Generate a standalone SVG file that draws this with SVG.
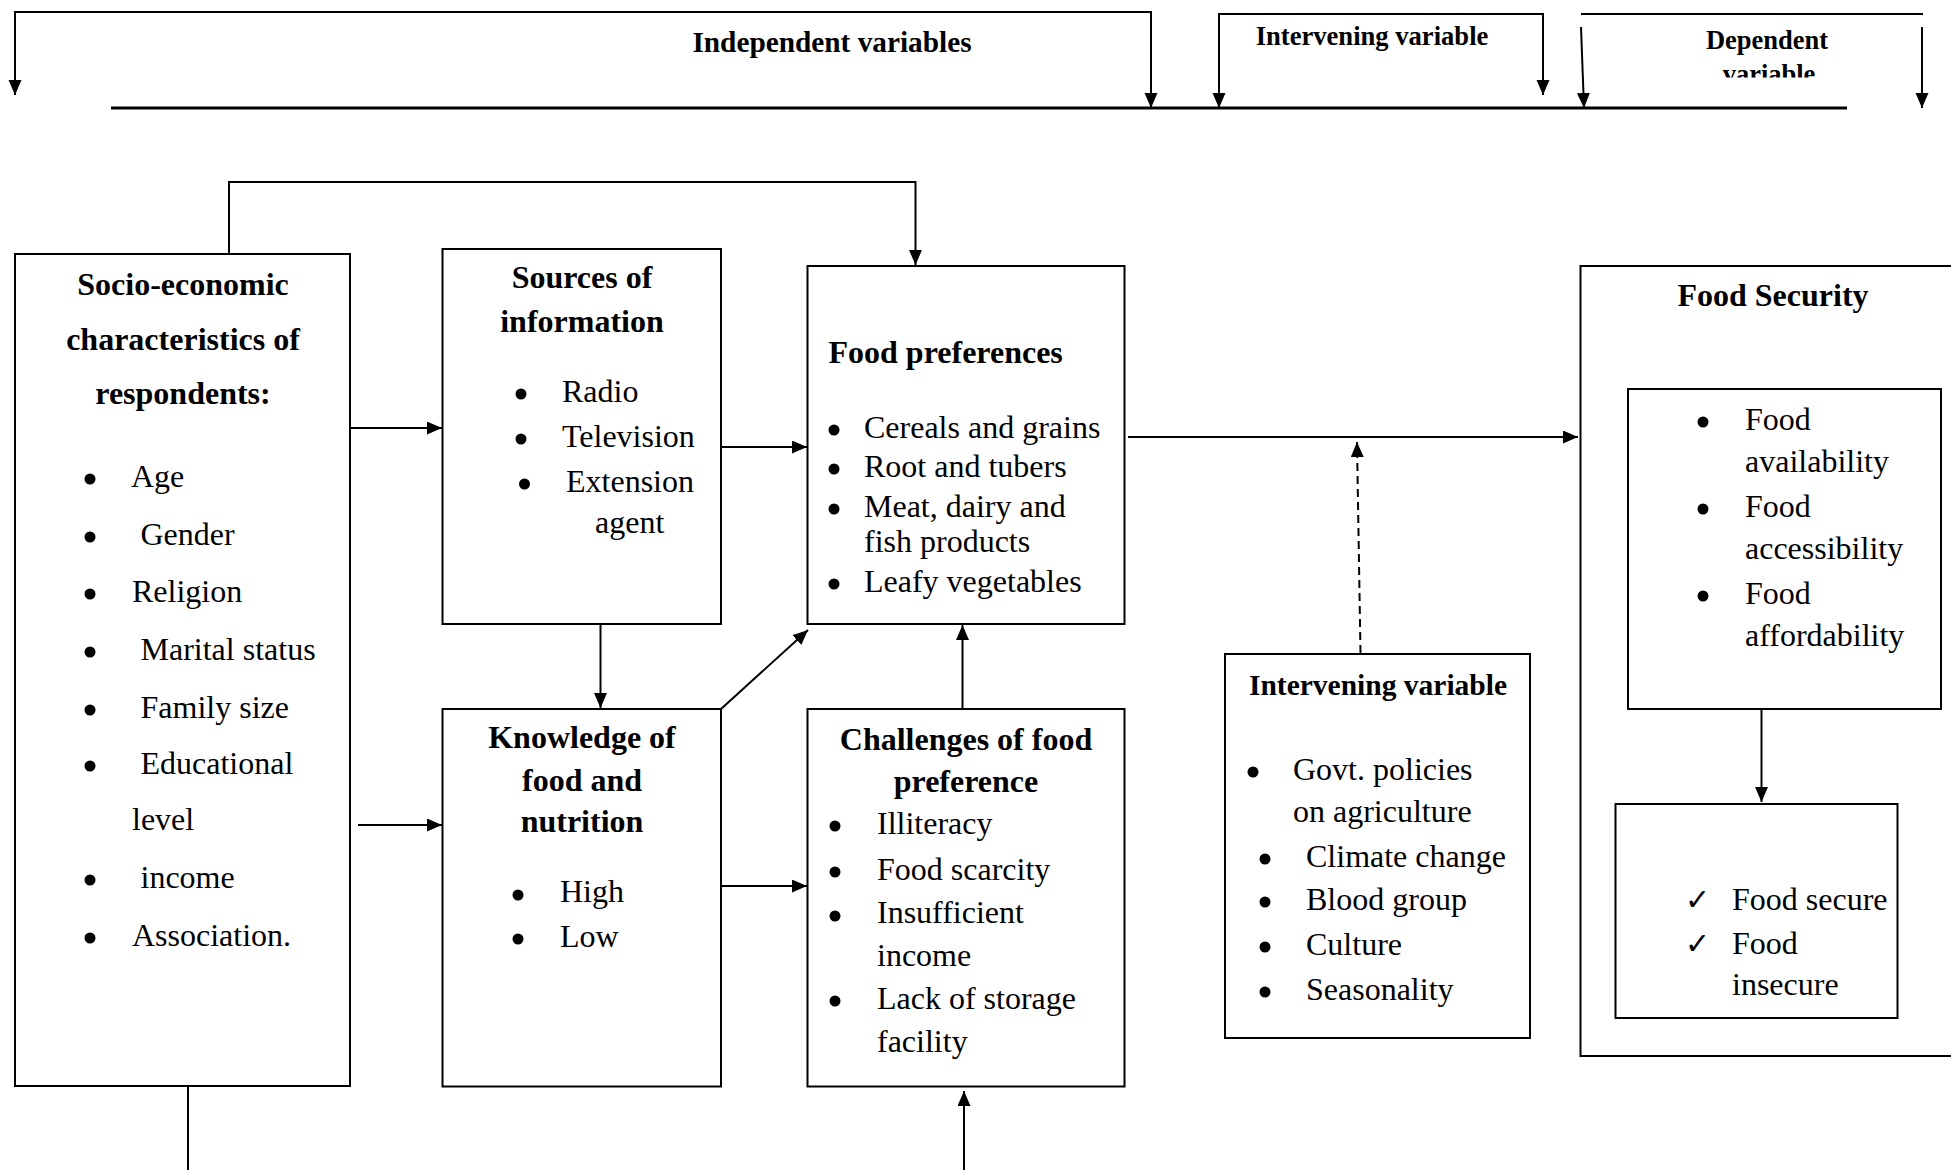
<svg xmlns="http://www.w3.org/2000/svg" width="1951" height="1170" viewBox="0 0 1951 1170">
<defs>
<style>
.box{fill:none;stroke:#000;stroke-width:2}
.ln{fill:none;stroke:#000;stroke-width:2}
.t{font-family:"Liberation Serif","Times New Roman",serif;font-size:32px;fill:#000}
.b{font-weight:bold}
.h{font-family:"Liberation Serif","Times New Roman",serif;font-weight:bold;fill:#000}
.c{text-anchor:middle}
.ck{font-family:"DejaVu Sans",sans-serif;font-size:30px;fill:#000}
</style>
<marker id="ah" markerUnits="userSpaceOnUse" markerWidth="16" markerHeight="14" refX="15" refY="6.5" orient="auto"><path d="M0,0 L15,6.5 L0,13 z" fill="#000"/></marker>
<clipPath id="depclip"><rect x="1580" y="0" width="360" height="77.5"/></clipPath>
</defs>
<rect width="1951" height="1170" fill="#fff"/>

<g id="header">
<text class="h c" x="832" y="52" font-size="29.3">Independent variables</text>
<text class="h c" x="1372" y="45" font-size="26.6">Intervening variable</text>
<text class="h c" x="1767" y="49" font-size="26.5">Dependent</text>
<text class="h c" x="1769" y="83" font-size="26.5" clip-path="url(#depclip)">variable</text>
</g>

<g id="connectors">
<polyline class="ln" points="15,95 15,12 1151,12 1151,108" marker-end="url(#ah)"/>
<path class="ln" d="M15,12 L15,95" marker-end="url(#ah)"/>
<polyline class="ln" points="1543,95 1543,14 1219,14 1219,108" marker-end="url(#ah)"/>
<path class="ln" d="M1219,14 L1543,14 L1543,95" marker-end="url(#ah)"/>
<line class="ln" x1="1581" y1="14" x2="1923" y2="14"/>
<line class="ln" x1="1581" y1="27" x2="1584" y2="108" marker-end="url(#ah)"/>
<line class="ln" x1="1922" y1="27" x2="1922" y2="108" marker-end="url(#ah)"/>
<line x1="111" y1="108" x2="1847" y2="108" stroke="#000" stroke-width="3"/>
<polyline class="ln" points="229,253 229,182 915.5,182 915.5,265" marker-end="url(#ah)"/>
<line class="ln" x1="350" y1="428" x2="442" y2="428" marker-end="url(#ah)"/>
<line class="ln" x1="721" y1="447" x2="807" y2="447" marker-end="url(#ah)"/>
<line class="ln" x1="600.5" y1="624" x2="600.5" y2="708" marker-end="url(#ah)"/>
<line class="ln" x1="358" y1="825" x2="442" y2="825" marker-end="url(#ah)"/>
<line class="ln" x1="721" y1="709" x2="808" y2="630" marker-end="url(#ah)"/>
<line class="ln" x1="721" y1="886" x2="807" y2="886" marker-end="url(#ah)"/>
<line class="ln" x1="962.5" y1="709" x2="962.5" y2="625" marker-end="url(#ah)"/>
<line class="ln" x1="964" y1="1170" x2="964" y2="1091" marker-end="url(#ah)"/>
<line class="ln" x1="188" y1="1086" x2="188" y2="1170"/>
<line class="ln" x1="1128" y1="437" x2="1578" y2="437" marker-end="url(#ah)"/>
<line class="ln" x1="1360.5" y1="653" x2="1357" y2="442" stroke-dasharray="8 5" marker-end="url(#ah)"/>
<line class="ln" x1="1761.5" y1="709" x2="1761.5" y2="802" marker-end="url(#ah)"/>
</g>

<g id="socio">
<rect class="box" x="15" y="254" width="335" height="832"/>
<text class="t b c" x="183" y="295">Socio-economic</text>
<text class="t b c" x="183" y="350">characteristics of</text>
<text class="t b c" x="183" y="404">respondents:</text>
<g fill="#000"><circle cx="90" cy="479" r="5.5"/><circle cx="90" cy="537" r="5.5"/><circle cx="90" cy="594" r="5.5"/><circle cx="90" cy="652" r="5.5"/><circle cx="90" cy="710" r="5.5"/><circle cx="90" cy="766" r="5.5"/><circle cx="90" cy="880" r="5.5"/><circle cx="90" cy="938" r="5.5"/></g>
<text class="t" x="131" y="487">Age</text>
<text class="t" x="140.5" y="545">Gender</text>
<text class="t" x="132" y="602">Religion</text>
<text class="t" x="140.5" y="660">Marital status</text>
<text class="t" x="140.5" y="718">Family size</text>
<text class="t" x="140.5" y="774">Educational</text>
<text class="t" x="132" y="830">level</text>
<text class="t" x="140.5" y="888">income</text>
<text class="t" x="132" y="946">Association.</text>
</g>

<g id="sources">
<rect class="box" x="442.5" y="249" width="278.5" height="375"/>
<text class="t b c" x="582" y="288">Sources of</text>
<text class="t b c" x="582" y="332">information</text>
<g fill="#000"><circle cx="521" cy="394" r="5.5"/><circle cx="521" cy="439" r="5.5"/><circle cx="524.5" cy="484" r="5.5"/></g>
<text class="t" x="562" y="402">Radio</text>
<text class="t" x="562" y="447">Television</text>
<text class="t" x="566" y="492">Extension</text>
<text class="t" x="595" y="533">agent</text>
</g>

<g id="knowledge">
<rect class="box" x="442.5" y="709" width="278.5" height="377.5"/>
<text class="t b c" x="582" y="748">Knowledge of</text>
<text class="t b c" x="582" y="791">food and</text>
<text class="t b c" x="582" y="832">nutrition</text>
<g fill="#000"><circle cx="518" cy="895" r="5.5"/><circle cx="518" cy="939" r="5.5"/></g>
<text class="t" x="560" y="902">High</text>
<text class="t" x="560" y="947">Low</text>
</g>

<g id="foodpref">
<rect class="box" x="807.5" y="266" width="317" height="358"/>
<text class="t b" x="828.5" y="363">Food preferences</text>
<g fill="#000"><circle cx="834" cy="430" r="5.5"/><circle cx="834" cy="469" r="5.5"/><circle cx="834" cy="509" r="5.5"/><circle cx="834" cy="584" r="5.5"/></g>
<text class="t" x="864" y="438">Cereals and grains</text>
<text class="t" x="864" y="477">Root and tubers</text>
<text class="t" x="864" y="517">Meat, dairy and</text>
<text class="t" x="864" y="552">fish products</text>
<text class="t" x="864" y="592">Leafy vegetables</text>
</g>

<g id="challenges">
<rect class="box" x="807.5" y="709" width="317" height="377.5"/>
<text class="t b c" x="966" y="750">Challenges of food</text>
<text class="t b c" x="966" y="792">preference</text>
<g fill="#000"><circle cx="835" cy="826" r="5.5"/><circle cx="835" cy="872" r="5.5"/><circle cx="835" cy="916" r="5.5"/><circle cx="835" cy="1001" r="5.5"/></g>
<text class="t" x="877" y="834">Illiteracy</text>
<text class="t" x="877" y="880">Food scarcity</text>
<text class="t" x="877" y="923">Insufficient</text>
<text class="t" x="877" y="966">income</text>
<text class="t" x="877" y="1009">Lack of storage</text>
<text class="t" x="877" y="1052">facility</text>
</g>

<g id="intervening">
<rect class="box" x="1225" y="654" width="305" height="384"/>
<text class="h c" x="1378" y="695" font-size="29.5">Intervening variable</text>
<g fill="#000"><circle cx="1253" cy="772" r="5.5"/><circle cx="1265" cy="859" r="5.5"/><circle cx="1265" cy="902" r="5.5"/><circle cx="1265" cy="947" r="5.5"/><circle cx="1265" cy="992" r="5.5"/></g>
<text class="t" x="1293" y="780">Govt. policies</text>
<text class="t" x="1293" y="822">on agriculture</text>
<text class="t" x="1306" y="867">Climate change</text>
<text class="t" x="1306" y="910">Blood group</text>
<text class="t" x="1306" y="955">Culture</text>
<text class="t" x="1306" y="1000">Seasonality</text>
</g>

<g id="foodsecurity">
<rect class="box" x="1580.5" y="266" width="380" height="790"/>
<text class="t b c" x="1773" y="306">Food Security</text>
</g>

<g id="dimensions">
<rect class="box" x="1628" y="389" width="313" height="320"/>
<g fill="#000"><circle cx="1703" cy="422" r="5.5"/><circle cx="1703" cy="509" r="5.5"/><circle cx="1703" cy="596" r="5.5"/></g>
<text class="t" x="1745" y="430">Food</text>
<text class="t" x="1745" y="472">availability</text>
<text class="t" x="1745" y="517">Food</text>
<text class="t" x="1745" y="559">accessibility</text>
<text class="t" x="1745" y="604">Food</text>
<text class="t" x="1745" y="646">affordability</text>
</g>

<g id="outcome">
<rect class="box" x="1615.5" y="804" width="282" height="214"/>
<text class="ck" x="1685" y="910">✓</text>
<text class="ck" x="1685" y="954">✓</text>
<text class="t" x="1732" y="910">Food secure</text>
<text class="t" x="1732" y="954">Food</text>
<text class="t" x="1732" y="995">insecure</text>
</g>
</svg>
